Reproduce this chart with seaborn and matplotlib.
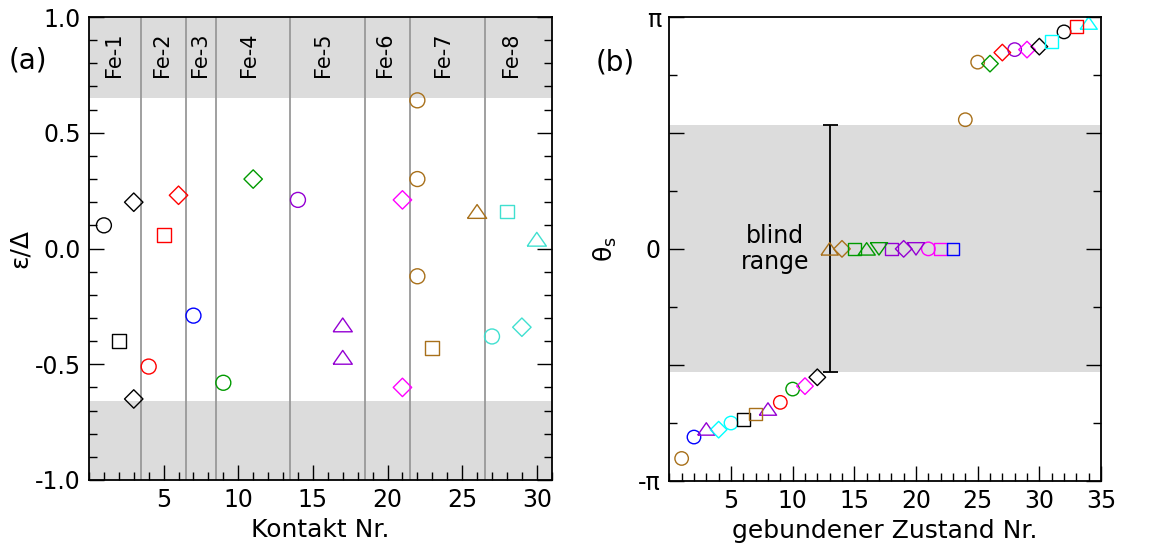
import numpy as np
import pandas as pd
import matplotlib
matplotlib.use("Agg")
import matplotlib.pyplot as plt
import seaborn as sns
from matplotlib.ticker import MultipleLocator, FixedLocator, FixedFormatter

# ---------------------------------------------------------------- data
# (a) bound-state energies per contact
contact_nr = [1, 2, 3, 3, 4, 5, 6, 7, 9, 11, 14, 17, 17, 21, 21,
              22, 22, 22, 23, 26, 27, 28, 29, 30]
energy = [0.10, -0.40, 0.20, -0.65, -0.51, 0.06, 0.23, -0.29, -0.58, 0.30,
          0.21, -0.33, -0.47, 0.21, -0.60, 0.64, 0.30, -0.12, -0.43, 0.16,
          -0.38, 0.16, -0.34, 0.04]
energy_color = ["black", "black", "black", "black", "red", "red", "red",
                "blue", "green", "green", "purple", "purple", "purple",
                "magenta", "magenta", "brown", "brown", "brown", "brown",
                "brown", "turquoise", "turquoise", "turquoise", "turquoise"]
energy_marker = ["circle", "square", "diamond", "diamond", "circle", "square",
                 "diamond", "circle", "circle", "diamond", "circle", "tri_up",
                 "tri_up", "diamond", "diamond", "circle", "circle", "circle",
                 "square", "tri_up", "circle", "square", "diamond", "tri_up"]

fe_names = ["Fe-1", "Fe-2", "Fe-3", "Fe-4", "Fe-5", "Fe-6", "Fe-7", "Fe-8"]
fe_label_pos = [1.65, 4.9, 7.45, 10.7, 15.7, 19.8, 23.7, 28.3]
fe_boundaries = [3.5, 6.5, 8.5, 13.5, 18.5, 21.5, 26.5]
gap_edge_lower, gap_edge_upper = -0.66, 0.65

# (b) scattering phases of the bound states
state_nr = list(range(1, 35))
phase = [-2.84, -2.55, -2.44, -2.45, -2.36, -2.31, -2.24, -2.17, -2.08, -1.90,
         -1.86, -1.74, 0.0, 0.0, 0.0, 0.0, 0.0, 0.0, 0.0, 0.0, 0.0, 0.0, 0.0,
         1.75, 2.53, 2.51, 2.66, 2.70, 2.70, 2.74, 2.81, 2.94, 3.01, 3.06]
phase_color = ["brown", "blue", "purple", "cyan", "cyan", "black", "brown",
               "purple", "red", "green", "magenta", "black", "brown", "brown",
               "green", "green", "green", "purple", "purple", "purple",
               "magenta", "magenta", "blue", "brown", "brown", "green", "red",
               "purple", "magenta", "black", "cyan", "black", "red", "cyan"]
phase_marker = ["circle", "circle", "tri_up", "diamond", "circle", "square",
                "square", "tri_up", "circle", "circle", "diamond", "diamond",
                "tri_up", "diamond", "square", "tri_up", "tri_down", "square",
                "diamond", "tri_down", "circle", "square", "square", "circle",
                "circle", "diamond", "diamond", "circle", "diamond", "diamond",
                "square", "circle", "square", "tri_up"]
blind_half_width = 1.675
blind_center_x = 13

# ---------------------------------------------------------------- style
PALETTE = {"black": "#000000", "red": "#ff0000", "blue": "#0000ff",
           "green": "#009a00", "purple": "#9400d3", "magenta": "#ff00ff",
           "brown": "#a8701a", "turquoise": "#40e0d0", "cyan": "#00ffff"}
MARKERS = {"circle": "o", "square": "s", "diamond": "D",
           "tri_up": [(-1, -0.72), (1, -0.72), (0, 0.72), (-1, -0.72)],
           "tri_down": [(-1, 0.72), (1, 0.72), (0, -0.72), (-1, 0.72)]}
SIZES = {"circle": 116, "square": 100, "diamond": 88, "tri_up": 190,
         "tri_down": 190}
BAND = "#dcdcdc"

sns.set_theme(style="white")
plt.rcParams.update({
    "font.family": ["DejaVu Sans"],
    "axes.unicode_minus": False,
    "text.color": "black",
    "axes.labelcolor": "black",
    "axes.edgecolor": "black",
    "axes.linewidth": 1.3,
    "xtick.direction": "in", "ytick.direction": "in",
    "xtick.major.size": 10.5, "ytick.major.size": 10.5,
    "xtick.minor.size": 5.5, "ytick.minor.size": 5.5,
    "xtick.major.width": 1.0, "ytick.major.width": 1.0,
    "xtick.minor.width": 1.0, "ytick.minor.width": 1.0,
    "xtick.major.pad": 6, "ytick.major.pad": 6,
    "xtick.color": "black", "ytick.color": "black",
    "xtick.labelcolor": "black", "ytick.labelcolor": "black",
    "xtick.labelsize": 17, "ytick.labelsize": 17,
    "axes.labelsize": 18,
})


def draw_points(ax, x, y, colors, markers, scale=1.0):
    df = pd.DataFrame({"x": x, "y": y, "color": colors, "marker": markers})
    for shape, grp in df.groupby("marker", sort=False):
        sns.scatterplot(data=grp, x="x", y="y", hue="color", palette=PALETTE,
                        marker=MARKERS[shape], s=SIZES[shape] * scale,
                        linewidth=1.0, legend=False, zorder=4, ax=ax)
        pc = ax.collections[-1]
        pc.set_edgecolor(pc.get_facecolor())
        pc.set_facecolor("none")


fig = plt.figure(figsize=(11.63, 5.56), dpi=100)
ax1 = fig.add_axes([0.0765, 0.1367, 0.3979, 0.8327])
ax2 = fig.add_axes([0.5755, 0.1354, 0.3712, 0.8340])

# ---------------------------------------------------------------- (a)
ax1.axhspan(gap_edge_upper, 1.0, color=BAND, lw=0, zorder=0)
ax1.axhspan(-1.0, gap_edge_lower, color=BAND, lw=0, zorder=0)
for xb in fe_boundaries:
    ax1.axvline(xb, color="#999999", lw=1.3, zorder=1)
for name, xp in zip(fe_names, fe_label_pos):
    ax1.text(xp, 0.838, name, rotation=90, ha="center", va="center",
             fontsize=15, zorder=3)
draw_points(ax1, contact_nr, energy, energy_color, energy_marker)

ax1.set_xlim(0, 31)
ax1.set_ylim(-1.0, 1.0)
ax1.xaxis.set_major_locator(FixedLocator([5, 10, 15, 20, 25, 30]))
ax1.xaxis.set_minor_locator(MultipleLocator(1))
ax1.yaxis.set_major_locator(MultipleLocator(0.5))
ax1.yaxis.set_minor_locator(MultipleLocator(0.1))
ax1.yaxis.set_major_formatter(matplotlib.ticker.FormatStrFormatter("%.1f"))
ax1.tick_params(axis="x", which="both", bottom=True, top=False)
ax1.tick_params(axis="y", which="both", left=True, right=True)
ax1.set_xlabel("Kontakt Nr.", labelpad=4)
ax1.set_ylabel("ε/Δ", labelpad=2)

# ---------------------------------------------------------------- (b)
ax2.axhspan(-blind_half_width, blind_half_width, color=BAND, lw=0, zorder=0)
ax2.errorbar([blind_center_x], [0.0], yerr=[[blind_half_width], [blind_half_width]],
             fmt="none", ecolor="black", elinewidth=1.3, capsize=5.4,
             capthick=1.3, zorder=2)
ax2.text(8.6, 0.0, "blind\nrange", ha="center", va="center", fontsize=17,
         linespacing=1.1, zorder=3)
draw_points(ax2, state_nr, phase, phase_color, phase_marker, scale=0.81)

ax2.set_xlim(0, 35)
ax2.set_ylim(-np.pi, np.pi)
ax2.xaxis.set_major_locator(FixedLocator([5, 10, 15, 20, 25, 30, 35]))
ax2.xaxis.set_minor_locator(MultipleLocator(1))
ax2.yaxis.set_major_locator(FixedLocator([-np.pi, -np.pi / 2, 0, np.pi / 2, np.pi]))
ax2.yaxis.set_major_formatter(FixedFormatter(["-π", "", "0", "", "π"]))
ax2.yaxis.set_minor_locator(FixedLocator([-3 * np.pi / 4, -np.pi / 4,
                                          np.pi / 4, 3 * np.pi / 4]))
ax2.tick_params(axis="x", which="both", bottom=True, top=False)
ax2.tick_params(axis="y", which="both", left=True, right=True)
ax2.set_xlabel("gebundener Zustand Nr.", labelpad=4)
ax2.set_ylabel("θ$_\\mathregular{s}$", labelpad=14)

for ax in (ax1, ax2):
    for sp in ax.spines.values():
        sp.set_visible(True)
        sp.set_color("black")
        sp.set_zorder(5)

fig.text(0.024, 0.892, "(a)", fontsize=20, ha="center", va="center")
fig.text(0.529, 0.888, "(b)", fontsize=20, ha="center", va="center")

fig.savefig("out.png", dpi=100)
